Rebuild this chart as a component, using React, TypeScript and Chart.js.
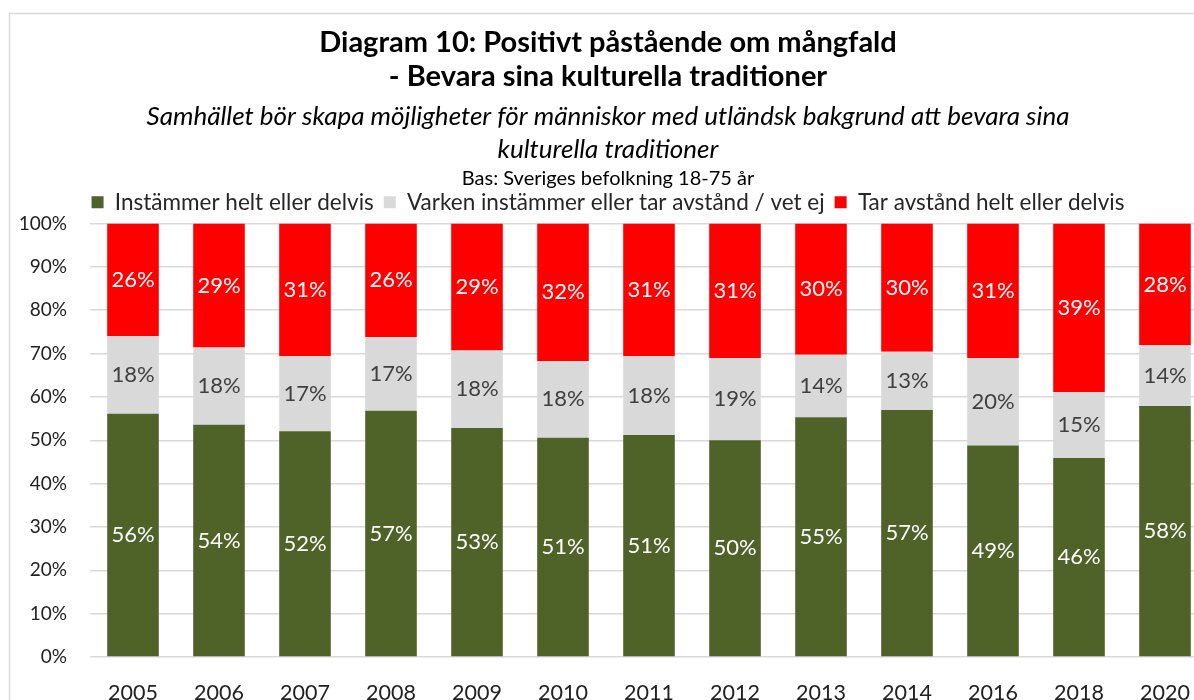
import React, { useEffect, useRef } from 'react';
import { Chart, registerables } from 'chart.js';

Chart.register(...registerables);

const years = ['2005', '2006', '2007', '2008', '2009', '2010', '2011', '2012', '2013', '2014', '2016', '2018', '2020'];
const agree = [56.1, 53.6, 52.1, 56.8, 52.8, 50.6, 51.2, 50.0, 55.3, 57.0, 48.8, 45.9, 57.9];
const neutral = [17.9, 17.8, 17.3, 17.0, 17.9, 17.7, 18.2, 19.0, 14.4, 13.4, 20.2, 15.2, 14.0];
const disagree = [26.0, 28.6, 30.6, 26.2, 29.3, 31.7, 30.6, 31.0, 30.3, 29.6, 31.0, 38.9, 28.1];

const seriesNames = [
  'Instämmer helt eller delvis',
  'Varken instämmer eller tar avstånd / vet ej',
  'Tar avstånd helt eller delvis',
];
const seriesColors = ['#4F6228', '#D9D9D9', '#FF0000'];
const labelColors = ['#FFFFFF', '#404040', '#FFFFFF'];

const titleLines = ['Diagram 10: Positivt påstående om mångfald', '- Bevara sina kulturella traditioner'];
const subtitleLines = [
  'Samhället bör skapa möjligheter för människor med utländsk bakgrund att bevara sina',
  'kulturella traditioner',
];
const baseText = 'Bas: Sveriges befolkning 18-75 år';

const FONT = 'Lato, Calibri, "Noto Sans", sans-serif';

const framePlugin = {
  id: 'frame',
  beforeDraw(chart: any) {
    const { ctx } = chart;
    ctx.save();
    ctx.strokeStyle = '#D9D9D9';
    ctx.lineWidth = 1.5;
    ctx.strokeRect(9.5, 13.5, 3000, 3000);
    ctx.restore();
  },
};

const valueLabelPlugin = {
  id: 'valueLabels',
  afterDatasetsDraw(chart: any) {
    const { ctx } = chart;
    ctx.save();
    ctx.font = `22px ${FONT}`;
    ctx.textAlign = 'center';
    ctx.textBaseline = 'middle';
    chart.data.datasets.forEach((ds: any, i: number) => {
      const meta = chart.getDatasetMeta(i);
      meta.data.forEach((bar: any, j: number) => {
        const v = ds.data[j];
        const cy = (bar.y + bar.base) / 2;
        ctx.fillStyle = labelColors[i];
        ctx.fillText(Math.round(v) + '%', bar.x, cy);
      });
    });
    ctx.restore();
  },
};

export default function App() {
  const ref = useRef<HTMLCanvasElement | null>(null);

  useEffect(() => {
    if (!ref.current) return;
    const chart = new Chart(ref.current, {
      type: 'bar',
      data: {
        labels: years,
        datasets: [agree, neutral, disagree].map((d, i) => ({
          label: seriesNames[i],
          data: d,
          backgroundColor: seriesColors[i],
          borderWidth: 0,
          barPercentage: 0.6,
          categoryPercentage: 1,
        })),
      },
      options: {
        responsive: false,
        animation: false,
        devicePixelRatio: 1,
        layout: { padding: { left: 8, right: 0, top: 0, bottom: 0 } },
        plugins: {
          title: {
            display: true,
            text: titleLines,
            color: '#000',
            font: { family: FONT, size: 29, weight: 'bold', lineHeight: '34px' },
            padding: { top: 26, bottom: 0 },
          },
          subtitle: {
            display: true,
            text: subtitleLines,
            color: '#000',
            font: { family: FONT, size: 26, style: 'italic', lineHeight: '33px' },
            padding: { top: 6.5, bottom: 2 },
          },
          legend: {
            display: true,
            position: 'top',
            title: {
              display: true,
              text: baseText,
              color: '#000',
              font: { family: FONT, size: 20, lineHeight: '3px' },
              padding: { top: 0.5, bottom: 9 },
            },
            labels: {
              color: '#262626',
              font: { family: FONT, size: 22.5 },
              boxWidth: 12,
              boxHeight: 12,
              padding: 10,
            },
          },
          tooltip: { enabled: false },
        },
        scales: {
          x: {
            stacked: true,
            grid: { display: false },
            border: { display: false },
            ticks: { color: '#222', font: { family: FONT, size: 21.5 }, padding: 15 },
            afterFit(scale: any) {
              scale.height = 43;
            },
          },
          y: {
            stacked: true,
            min: 0,
            max: 100,
            grid: { color: '#D9D9D9', lineWidth: 1.5, drawTicks: false },
            border: { display: false },
            ticks: {
              stepSize: 10,
              color: '#222',
              font: { family: FONT, size: 19 },
              padding: 23,
              callback: (v: any) => v + '%',
            },
            afterFit(scale: any) {
              scale.width = 82;
            },
          },
        },
      },
      plugins: [framePlugin, valueLabelPlugin],
    } as any);
    return () => chart.destroy();
  }, []);

  return (
    <div style={{ position: 'absolute', left: 0, top: 0, width: 1194, height: 700, overflow: 'hidden', background: '#fff' }}>
      <canvas ref={ref} width={1208} height={700} style={{ display: 'block', width: 1208, height: 700 }} />
    </div>
  );
}
